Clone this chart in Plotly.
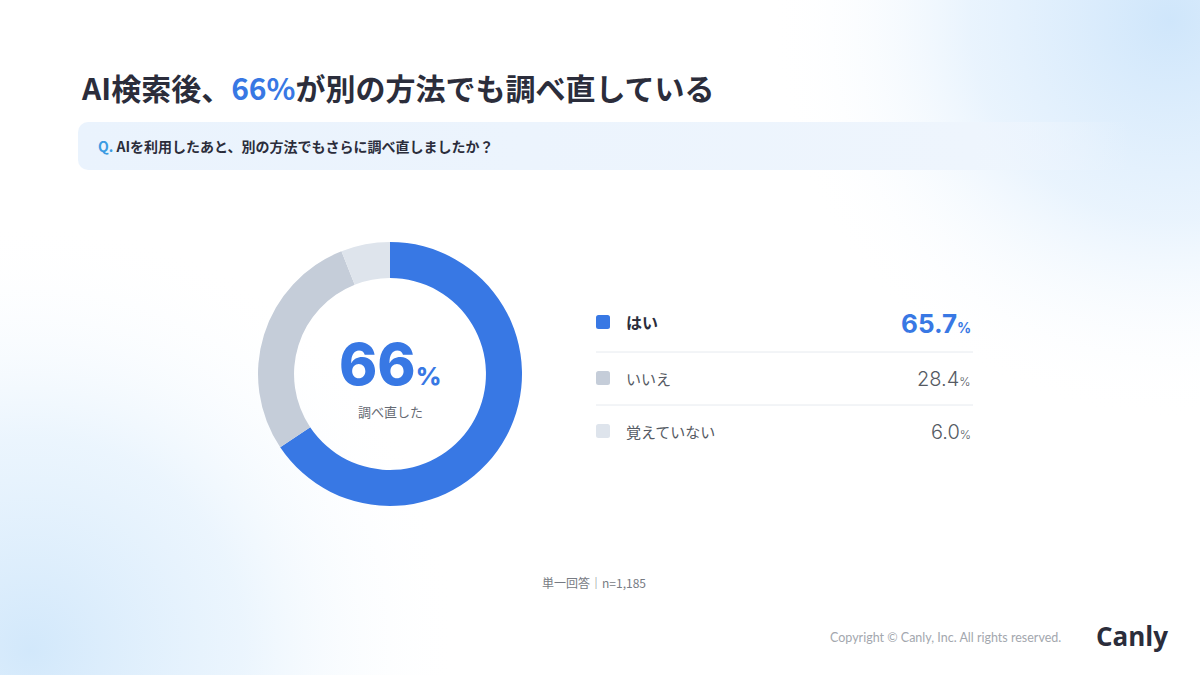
import base64
import plotly.graph_objects as go

W, H = 1200, 675

# ---- data ----
categories = ["はい", "いいえ", "覚えていない"]
values = [65.7, 28.4, 6.0]
colors = ["#3878E4", "#C5CDD9", "#DEE4EC"]
headline_pct = "66"
center_label = "調べ直した"
title_pre = "AI検索後、"
title_hl = "66%"
title_post = "が別の方法でも調べ直している"
question = "AIを利用したあと、別の方法でもさらに調べ直しましたか？"
footnote = "単一回答｜n=1,185"
copyright_text = "Copyright © Canly, Inc. All rights reserved."

JP = "Noto Sans CJK JP"
NUM = "Inter"


def px(x):
    return x / W


def py(y):
    return 1 - y / H


fig = go.Figure()

# donut
fig.add_trace(go.Pie(
    labels=categories, values=values, hole=0.727, sort=False,
    direction="clockwise", rotation=0,
    marker=dict(colors=colors, line=dict(width=0)),
    textinfo="none", hoverinfo="label+percent", showlegend=False,
    domain=dict(x=[px(258), px(522)], y=[py(506), py(242)]),
))

# background gradient (svg)
svg = f"""<svg xmlns='http://www.w3.org/2000/svg' width='{W}' height='{H}' viewBox='0 0 {W} {H}'>
<defs>
<radialGradient id='tr' cx='1170' cy='20' r='400' gradientUnits='userSpaceOnUse'>
<stop offset='0' stop-color='#cfe6fb' stop-opacity='1'/>
<stop offset='0.5' stop-color='#e2f0fd' stop-opacity='0.75'/>
<stop offset='1' stop-color='#ffffff' stop-opacity='0'/>
</radialGradient>
<radialGradient id='bl' cx='30' cy='650' r='430' gradientUnits='userSpaceOnUse'>
<stop offset='0' stop-color='#d2e8fb' stop-opacity='1'/>
<stop offset='0.5' stop-color='#e5f2fd' stop-opacity='0.75'/>
<stop offset='1' stop-color='#ffffff' stop-opacity='0'/>
</radialGradient>
<linearGradient id='qb' x1='78' y1='0' x2='1130' y2='0' gradientUnits='userSpaceOnUse'>
<stop offset='0' stop-color='#EAF3FD'/>
<stop offset='0.85' stop-color='#EEF5FD'/>
<stop offset='1' stop-color='#EEF5FD' stop-opacity='0'/>
</linearGradient>
</defs>
<rect width='{W}' height='{H}' fill='#ffffff'/>
<rect width='{W}' height='{H}' fill='url(#tr)'/>
<rect width='{W}' height='{H}' fill='url(#bl)'/>
<rect x='78' y='122' width='1060' height='48' rx='10' ry='10' fill='url(#qb)'/>
</svg>"""
src = "data:image/svg+xml;base64," + base64.b64encode(svg.encode()).decode()
fig.add_layout_image(dict(source=src, xref="paper", yref="paper", x=0, y=1,
                          sizex=1, sizey=1, xanchor="left", yanchor="top",
                          sizing="stretch", layer="below"))

ann = []
# title
ann.append(dict(x=px(79), y=py(87), xanchor="left", yanchor="middle",
                text=f"<b>{title_pre}<span style='color:#3878E4'>{title_hl}</span>{title_post}</b>",
                font=dict(family=JP, size=30, color="#2B2D3B", weight=900)))
# question
ann.append(dict(x=px(96), y=py(146), xanchor="left", yanchor="middle",
                text=f"<b><span style='color:#3A9BE2'>Q.</span> {question}</b>",
                font=dict(family=JP, size=14, color="#2B2D3B")))
# center text
ann.append(dict(x=px(390), y=py(364), xanchor="center", yanchor="middle",
                text=f"{headline_pct}<span style='font-size:25px'>%</span>",
                font=dict(family=NUM, size=58, color="#3878E4", weight=800)))
ann.append(dict(x=px(390), y=py(411), xanchor="center", yanchor="middle",
                text=center_label, font=dict(family=JP, size=13, color="#666A73")))

shapes = []
row_y = [322, 378, 431]
for i, (cat, val, col) in enumerate(zip(categories, values, colors)):
    yc = row_y[i]
    x0, x1, y0, y1, r = 596, 610, yc - 7, yc + 7, 2.5
    path = (f"M {px(x0+r)} {py(y0)} L {px(x1-r)} {py(y0)} Q {px(x1)} {py(y0)} {px(x1)} {py(y0+r)} "
            f"L {px(x1)} {py(y1-r)} Q {px(x1)} {py(y1)} {px(x1-r)} {py(y1)} "
            f"L {px(x0+r)} {py(y1)} Q {px(x0)} {py(y1)} {px(x0)} {py(y1-r)} "
            f"L {px(x0)} {py(y0+r)} Q {px(x0)} {py(y0)} {px(x0+r)} {py(y0)} Z")
    shapes.append(dict(type="path", path=path, xref="paper", yref="paper",
                       fillcolor=col, line=dict(width=0)))
    if i == 0:
        ann.append(dict(x=px(624), y=py(yc), xanchor="left", yanchor="middle",
                        text=f"<b>{cat}</b>", font=dict(family=JP, size=16, color="#2B2D3B")))
        ann.append(dict(x=px(973), y=py(yc + 1), xanchor="right", yanchor="middle",
                        text=f"{val:.1f}<span style='font-size:14px'>%</span>",
                        font=dict(family=NUM, size=26, color="#3878E4", weight=700)))
    else:
        ann.append(dict(x=px(624), y=py(yc), xanchor="left", yanchor="middle",
                        text=cat, font=dict(family=JP, size=15, color="#555A63")))
        ann.append(dict(x=px(973), y=py(yc + 1), xanchor="right", yanchor="middle",
                        text=f"{val:.1f}<span style='font-size:12px'>%</span>",
                        font=dict(family=NUM, size=20, color="#555A63", weight=300)))

for ly in [352, 405]:
    shapes.append(dict(type="line", xref="paper", yref="paper",
                       x0=px(596), x1=px(973), y0=py(ly), y1=py(ly),
                       line=dict(color="#E6EAEF", width=1)))

ann.append(dict(x=px(594), y=py(582), xanchor="center", yanchor="middle",
                text=footnote, font=dict(family=JP, size=12, color="#777B83")))
ann.append(dict(x=px(1063), y=py(637), xanchor="right", yanchor="middle",
                text=copyright_text, font=dict(family="Lato", size=12.5, color="#A3A7AE")))
ann.append(dict(x=px(1094), y=py(636), xanchor="left", yanchor="middle",
                text="<b>Canly</b>", font=dict(family="Open Sans", size=26, color="#2B2D3B")))

for a in ann:
    a.update(xref="paper", yref="paper", showarrow=False)

fig.update_layout(width=W, height=H, margin=dict(l=0, r=0, t=0, b=0),
                  paper_bgcolor="white", plot_bgcolor="white",
                  annotations=ann, shapes=shapes, showlegend=False)
fig.write_html("out.html", config=dict(displayModeBar=False),
               post_script="document.body.style.margin='0';document.body.style.padding='0';")
